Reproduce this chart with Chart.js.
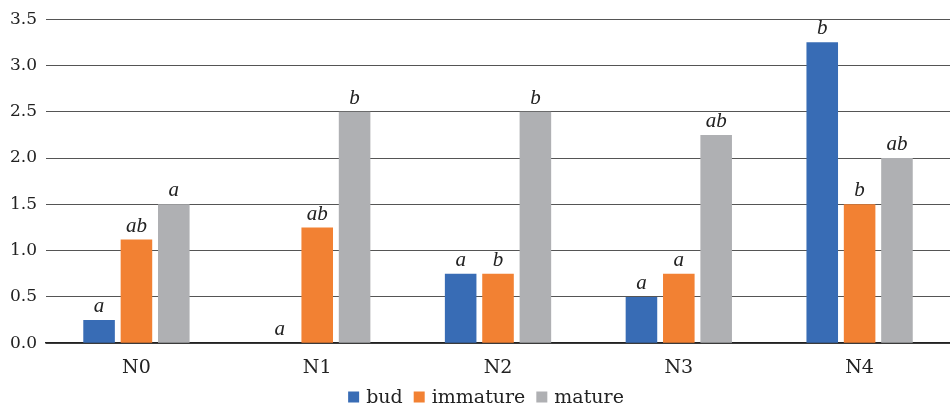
<!DOCTYPE html>
<html>
<head>
<meta charset="utf-8">
<script src="https://cdn.jsdelivr.net/npm/chart.js@4/dist/chart.umd.min.js"></script>
<style>
  html, body { margin: 0; padding: 0; background: #fff; }
  #wrap { width: 950px; height: 410px; }
</style>
</head>
<body>
<div id="wrap"><canvas id="c" width="950" height="410"></canvas></div>
<script>
const categories = ['N0', 'N1', 'N2', 'N3', 'N4'];
const budValues = [0.25, 0, 0.75, 0.5, 3.25];
const immatureValues = [1.12, 1.25, 0.75, 0.75, 1.5];
const matureValues = [1.5, 2.5, 2.5, 2.25, 2.0];
const budLetters = ['a', 'a', 'a', 'a', 'b'];
const immatureLetters = ['ab', 'ab', 'b', 'a', 'b'];
const matureLetters = ['a', 'b', 'b', 'ab', 'ab'];
const yTicks = [0, 0.5, 1, 1.5, 2, 2.5, 3, 3.5];

const serif = "'DejaVu Serif', 'Liberation Serif', serif";

// Significance letters drawn above each bar
const letterPlugin = {
  id: 'letters',
  afterDatasetsDraw(chart) {
    const ctx = chart.ctx;
    ctx.save();
    ctx.fillStyle = '#222';
    ctx.font = "italic 21px 'Liberation Serif', 'DejaVu Serif', serif";
    ctx.textAlign = 'center';
    ctx.textBaseline = 'bottom';
    chart.data.datasets.forEach((ds, i) => {
      const meta = chart.getDatasetMeta(i);
      meta.data.forEach((bar, j) => {
        const txt = ds.letters[j];
        if (txt) ctx.fillText(txt, bar.x, bar.y - 3);
      });
    });
    ctx.restore();
  }
};

// Bottom legend: square swatch + series name, one row
const legendRow = {
  id: 'legendRow',
  afterDraw(chart) {
    const ctx = chart.ctx;
    const box = 11, textGap = 7, itemGap = 11;
    ctx.save();
    ctx.font = '19px ' + serif;
    ctx.textBaseline = 'middle';
    const items = chart.data.datasets.map(ds => ({
      label: ds.label, color: ds.backgroundColor,
      w: box + textGap + ctx.measureText(ds.label).width
    }));
    const total = items.reduce((s, it) => s + it.w, 0) + itemGap * (items.length - 1);
    let x = chart.width / 2 + 11 - total / 2;
    const y = 397;
    items.forEach(it => {
      ctx.fillStyle = it.color;
      ctx.fillRect(x, y - box / 2, box, box);
      ctx.fillStyle = '#222';
      ctx.fillText(it.label, x + box + textGap, y + 1);
      x += it.w + itemGap;
    });
    ctx.restore();
  }
};

new Chart(document.getElementById('c'), {
  type: 'bar',
  data: {
    labels: categories,
    datasets: [
      { label: 'bud', data: budValues, letters: budLetters, backgroundColor: '#386cb5' },
      { label: 'immature', data: immatureValues, letters: immatureLetters, backgroundColor: '#f28133' },
      { label: 'mature', data: matureValues, letters: matureLetters, backgroundColor: '#afb0b3' }
    ]
  },
  options: {
    responsive: false,
    animation: false,
    layout: { padding: { top: 5, right: 0, left: 1, bottom: 26 } },
    datasets: {
      bar: { categoryPercentage: 0.62, barPercentage: 0.845 }
    },
    plugins: {
      legend: { display: false },
      tooltip: { enabled: false }
    },
    scales: {
      x: {
        grid: { display: false },
        border: { color: '#222', width: 1.5 },
        ticks: { color: '#222', font: { family: serif, size: 19 }, padding: 5 }
      },
      y: {
        min: 0, max: 3.5,
        afterBuildTicks(axis) { axis.ticks = yTicks.map(v => ({ value: v })); },
        grid: { color: '#555', lineWidth: 1, drawTicks: false },
        border: { display: false },
        ticks: {
          color: '#222', padding: 9,
          font: { family: serif, size: 17 },
          callback: v => v.toFixed(1)
        }
      }
    }
  },
  plugins: [letterPlugin, legendRow]
});
</script>
</body>
</html>
